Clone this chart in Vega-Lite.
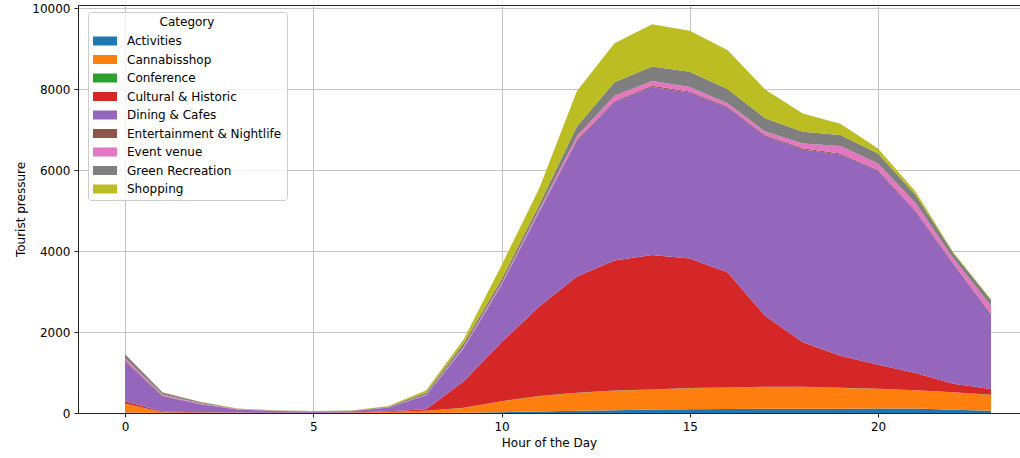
{
  "$schema": "https://vega.github.io/schema/vega-lite/v6.json",
  "autosize": "none",
  "padding": {"left": 78, "top": 5, "right": 0, "bottom": 45},
  "width": 942,
  "height": 408,
  "background": "white",
  "config": {
    "font": "DejaVu Sans",
    "view": {"stroke": "#222222", "strokeWidth": 1},
    "axis": {
      "labelFontSize": 12,
      "titleFontSize": 12,
      "titleFontWeight": "normal",
      "labelColor": "#000000",
      "titleColor": "#000000",
      "tickSize": 4,
      "tickColor": "#222222",
      "labelPadding": 4,
      "domainColor": "#222222",
      "domainWidth": 1,
      "gridColor": "#b0b0b0",
      "gridOpacity": 0.75,
      "gridWidth": 1,
      "zindex": 1
    }
  },
  "data": {
    "values": [
      {"hour": 0, "Activities": 10, "Cannabisshop": 220, "Conference": 5, "Cultural & Historic": 55, "Dining & Cafes": 980, "Entertainment & Nightlife": 25, "Event venue": 60, "Green Recreation": 95, "Shopping": 10},
      {"hour": 1, "Activities": 3, "Cannabisshop": 12, "Conference": 2, "Cultural & Historic": 18, "Dining & Cafes": 380, "Entertainment & Nightlife": 10, "Event venue": 35, "Green Recreation": 45, "Shopping": 8},
      {"hour": 2, "Activities": 2, "Cannabisshop": 5, "Conference": 1, "Cultural & Historic": 8, "Dining & Cafes": 200, "Entertainment & Nightlife": 6, "Event venue": 20, "Green Recreation": 28, "Shopping": 5},
      {"hour": 3, "Activities": 1, "Cannabisshop": 3, "Conference": 1, "Cultural & Historic": 5, "Dining & Cafes": 75, "Entertainment & Nightlife": 3, "Event venue": 8, "Green Recreation": 12, "Shopping": 2},
      {"hour": 4, "Activities": 1, "Cannabisshop": 2, "Conference": 0, "Cultural & Historic": 4, "Dining & Cafes": 42, "Entertainment & Nightlife": 2, "Event venue": 5, "Green Recreation": 8, "Shopping": 2},
      {"hour": 5, "Activities": 1, "Cannabisshop": 2, "Conference": 0, "Cultural & Historic": 4, "Dining & Cafes": 30, "Entertainment & Nightlife": 2, "Event venue": 3, "Green Recreation": 6, "Shopping": 2},
      {"hour": 6, "Activities": 1, "Cannabisshop": 3, "Conference": 0, "Cultural & Historic": 6, "Dining & Cafes": 35, "Entertainment & Nightlife": 2, "Event venue": 3, "Green Recreation": 7, "Shopping": 3},
      {"hour": 7, "Activities": 2, "Cannabisshop": 22, "Conference": 1, "Cultural & Historic": 20, "Dining & Cafes": 90, "Entertainment & Nightlife": 3, "Event venue": 5, "Green Recreation": 20, "Shopping": 7},
      {"hour": 8, "Activities": 3, "Cannabisshop": 50, "Conference": 2, "Cultural & Historic": 35, "Dining & Cafes": 350, "Entertainment & Nightlife": 5, "Event venue": 15, "Green Recreation": 45, "Shopping": 55},
      {"hour": 9, "Activities": 8, "Cannabisshop": 117, "Conference": 3, "Cultural & Historic": 654, "Dining & Cafes": 823, "Entertainment & Nightlife": 10, "Event venue": 25, "Green Recreation": 88, "Shopping": 102},
      {"hour": 10, "Activities": 20, "Cannabisshop": 268, "Conference": 4, "Cultural & Historic": 1453, "Dining & Cafes": 1410, "Entertainment & Nightlife": 15, "Event venue": 35, "Green Recreation": 100, "Shopping": 345},
      {"hour": 11, "Activities": 35, "Cannabisshop": 377, "Conference": 5, "Cultural & Historic": 2213, "Dining & Cafes": 2330, "Entertainment & Nightlife": 18, "Event venue": 50, "Green Recreation": 120, "Shopping": 400},
      {"hour": 12, "Activities": 55, "Cannabisshop": 440, "Conference": 6, "Cultural & Historic": 2873, "Dining & Cafes": 3350, "Entertainment & Nightlife": 25, "Event venue": 90, "Green Recreation": 240, "Shopping": 870},
      {"hour": 13, "Activities": 70, "Cannabisshop": 480, "Conference": 6, "Cultural & Historic": 3214, "Dining & Cafes": 3915, "Entertainment & Nightlife": 25, "Event venue": 125, "Green Recreation": 335, "Shopping": 965},
      {"hour": 14, "Activities": 85, "Cannabisshop": 490, "Conference": 7, "Cultural & Historic": 3320, "Dining & Cafes": 4155, "Entertainment & Nightlife": 25, "Event venue": 120, "Green Recreation": 360, "Shopping": 1040},
      {"hour": 15, "Activities": 95, "Cannabisshop": 515, "Conference": 7, "Cultural & Historic": 3203, "Dining & Cafes": 4097, "Entertainment & Nightlife": 25, "Event venue": 110, "Green Recreation": 380, "Shopping": 1010},
      {"hour": 16, "Activities": 100, "Cannabisshop": 525, "Conference": 7, "Cultural & Historic": 2848, "Dining & Cafes": 4065, "Entertainment & Nightlife": 25, "Event venue": 85, "Green Recreation": 350, "Shopping": 965},
      {"hour": 17, "Activities": 105, "Cannabisshop": 537, "Conference": 7, "Cultural & Historic": 1751, "Dining & Cafes": 4443, "Entertainment & Nightlife": 25, "Event venue": 85, "Green Recreation": 330, "Shopping": 710},
      {"hour": 18, "Activities": 105, "Cannabisshop": 537, "Conference": 7, "Cultural & Historic": 1096, "Dining & Cafes": 4768, "Entertainment & Nightlife": 25, "Event venue": 120, "Green Recreation": 290, "Shopping": 450},
      {"hour": 19, "Activities": 105, "Cannabisshop": 512, "Conference": 7, "Cultural & Historic": 792, "Dining & Cafes": 4973, "Entertainment & Nightlife": 25, "Event venue": 180, "Green Recreation": 275, "Shopping": 280},
      {"hour": 20, "Activities": 110, "Cannabisshop": 485, "Conference": 7, "Cultural & Historic": 590, "Dining & Cafes": 4784, "Entertainment & Nightlife": 25, "Event venue": 165, "Green Recreation": 247, "Shopping": 123},
      {"hour": 21, "Activities": 110, "Cannabisshop": 449, "Conference": 6, "Cultural & Historic": 421, "Dining & Cafes": 3987, "Entertainment & Nightlife": 25, "Event venue": 181, "Green Recreation": 205, "Shopping": 82},
      {"hour": 22, "Activities": 82, "Cannabisshop": 428, "Conference": 5, "Cultural & Historic": 208, "Dining & Cafes": 2956, "Entertainment & Nightlife": 20, "Event venue": 123, "Green Recreation": 124, "Shopping": 25},
      {"hour": 23, "Activities": 58, "Cannabisshop": 386, "Conference": 4, "Cultural & Historic": 144, "Dining & Cafes": 1838, "Entertainment & Nightlife": 20, "Event venue": 202, "Green Recreation": 139, "Shopping": 19}
    ]
  },
  "transform": [
    {"fold": ["Activities", "Cannabisshop", "Conference", "Cultural & Historic", "Dining & Cafes", "Entertainment & Nightlife", "Event venue", "Green Recreation", "Shopping"], "as": ["Category", "value"]}
  ],
  "mark": {"type": "area", "interpolate": "linear"},
  "encoding": {
    "x": {
      "field": "hour",
      "type": "quantitative",
      "scale": {"domain": [-1.248, 23.77], "nice": false, "zero": false},
      "axis": {"values": [0, 5, 10, 15, 20], "title": "Hour of the Day", "titlePadding": 5, "format": "d"}
    },
    "y": {
      "field": "value",
      "type": "quantitative",
      "stack": "zero",
      "scale": {"domain": [0, 10080], "nice": false},
      "axis": {"values": [0, 2000, 4000, 6000, 8000, 10000], "title": "Tourist pressure", "titlePadding": 4, "format": "d"}
    },
    "color": {
      "field": "Category",
      "type": "nominal",
      "scale": {
        "domain": ["Activities", "Cannabisshop", "Conference", "Cultural & Historic", "Dining & Cafes", "Entertainment & Nightlife", "Event venue", "Green Recreation", "Shopping"],
        "range": ["#1f77b4", "#ff7f0e", "#2ca02c", "#d62728", "#9467bd", "#8c564b", "#e377c2", "#7f7f7f", "#bcbd22"]
      },
      "legend": {
        "title": "Category",
        "orient": "none",
        "legendX": 10,
        "legendY": 7,
        "symbolType": "M-1,-0.75H3V0.75H-1Z",
        "symbolSize": 144,
        "symbolStrokeWidth": 0,
        "symbolOpacity": 1,
        "labelFontSize": 12,
        "labelOffset": 22,
        "labelColor": "#000000",
        "labelLimit": 400,
        "titleFontSize": 12,
        "titleFontWeight": "normal",
        "titleColor": "#000000",
        "titleAnchor": "middle",
        "titlePadding": 6,
        "padding": 5,
        "rowPadding": 6.5,
        "fillColor": "rgba(255,255,255,0.8)",
        "strokeColor": "#cccccc",
        "cornerRadius": 3
      }
    },
    "order": {"field": "Category", "type": "ordinal", "sort": "ascending"}
  }
}
